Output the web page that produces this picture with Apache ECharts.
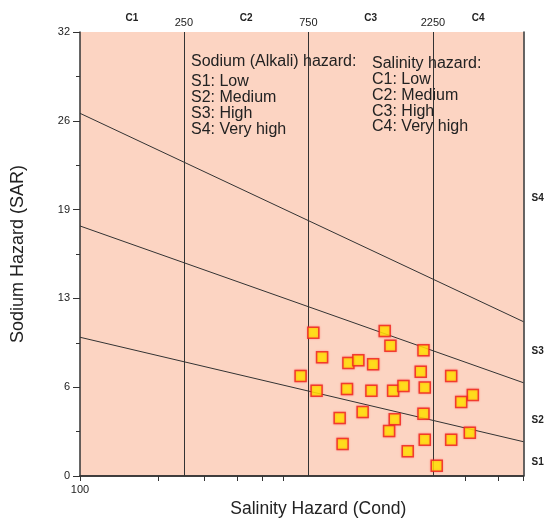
<!DOCTYPE html>
<html>
<head>
<meta charset="utf-8">
<script src="https://cdn.jsdelivr.net/npm/echarts@6/dist/echarts.min.js"></script>
<style>
html,body{margin:0;padding:0;background:#fff;}
#chart{width:547px;height:518px;}
</style>
</head>
<body>
<div id="chart"></div>
<script>
// Sample points: EC (conductivity) and SAR
const sampleEC  = [783, 1470, 1546, 2069, 846, 1067, 1165, 1327, 2020, 2642,
                   700, 806, 1054, 1307, 1583, 1734, 2093, 3198, 2886, 1210,
                   2069, 988, 1606, 1528, 3114, 2093, 2642, 1014, 1801, 2326];
const sampleSAR = [10.33, 10.45, 9.39, 9.06, 8.56, 8.15, 8.34, 8.05, 7.52, 7.21,
                   7.21, 6.15, 6.27, 6.15, 6.15, 6.49, 6.37, 5.84, 5.34, 4.61,
                   4.49, 4.18, 4.09, 3.24, 3.12, 2.62, 2.62, 2.31, 1.78, 0.74];

// Hazard class boundaries (EC, SAR)
const boundaryS1S2 = [[100, 10.0], [5000, 2.47]];
const boundaryS2S3 = [[100, 18.02], [5000, 6.72]];
const boundaryS3S4 = [[100, 26.14], [5000, 11.12]];

// Salinity class limits
const salinityLimits = [250, 750, 2250];
const salinityClassCenters = [158, 433, 1299, 3354];
const salinityClassLabels = ['C1', 'C2', 'C3', 'C4'];

// Sodium class label positions
const sodiumClassValues = [1, 4, 9, 20];
const sodiumClassLabels = ['S1', 'S2', 'S3', 'S4'];

// Axis ticks
const xTickValues = [100, 200, 300, 400, 500, 600, 3000, 4000, 5000];
const xLabelValues = [100];
const yTickLabels = ['0', '6', '13', '19', '26', '32'];

const sodiumText = ['S1: Low', 'S2: Medium', 'S3: High', 'S4: Very high'];
const salinityText = ['Salinity hazard:', 'C1: Low', 'C2: Medium', 'C3: High', 'C4: Very high'];

const FONT = 'Liberation Sans, Arial, Helvetica, sans-serif';
const INK = '#222';
const BORDER = '#333';

const chart = echarts.init(document.getElementById('chart'), null, {renderer: 'canvas'});

const logAxisBase = {
  type: 'log', logBase: 10, min: 100, max: 5000,
  splitLine: {show: false}, minorSplitLine: {show: false}
};

function nearestIndex(arr, v) {
  let best = 0;
  for (let i = 0; i < arr.length; i++) {
    if (Math.abs(Math.log10(arr[i]) - Math.log10(v)) <
        Math.abs(Math.log10(arr[best]) - Math.log10(v))) best = i;
  }
  return best;
}

const option = {
  animation: false,
  backgroundColor: '#fff',
  grid: {left: 80, right: 23.5, top: 32, bottom: 42, show: true,
         outerBoundsMode: 'none', containLabel: false,
         backgroundColor: '#fcd4c2', borderWidth: 0},
  xAxis: [
    Object.assign({}, logAxisBase, {
      position: 'bottom',
      name: 'Salinity Hazard (Cond)', nameLocation: 'middle', nameGap: 24,
      nameTextStyle: {fontFamily: FONT, fontSize: 17.5, color: INK, padding: [0, 0, 0, 33]},
      axisLine: {show: true, lineStyle: {color: BORDER, width: 1.5}},
      axisTick: {show: true, length: 5, customValues: xTickValues, lineStyle: {color: BORDER}},
      minorTick: {show: false},
      axisLabel: {show: true, customValues: xLabelValues, margin: 8,
                  fontFamily: FONT, fontSize: 11, color: INK,
                  formatter: function (v) { return String(Math.round(v)); }}
    }),
    Object.assign({}, logAxisBase, {
      position: 'top',
      axisLine: {show: true, lineStyle: {color: BORDER, width: 1.5}},
      axisTick: {show: false},
      minorTick: {show: false},
      axisLabel: {show: true, customValues: salinityLimits, margin: 4,
                  fontFamily: FONT, fontSize: 11, color: INK,
                  formatter: function (v) { return String(salinityLimits[nearestIndex(salinityLimits, v)]); }}
    }),
    Object.assign({}, logAxisBase, {
      position: 'top',
      axisLine: {show: false},
      axisTick: {show: false},
      minorTick: {show: false},
      axisLabel: {show: true, customValues: salinityClassCenters, margin: 9,
                  fontFamily: FONT, fontSize: 10, fontWeight: 'bold', color: INK,
                  formatter: function (v) {
                    return salinityClassLabels[nearestIndex(salinityClassCenters, v)];
                  }}
    })
  ],
  yAxis: [
    {
      type: 'value', min: 0, max: 32, interval: 6.4, position: 'left',
      name: 'Sodium Hazard (SAR)', nameLocation: 'middle', nameGap: 53, nameRotate: 90,
      nameTextStyle: {fontFamily: FONT, fontSize: 18, color: INK},
      axisLine: {show: true, lineStyle: {color: BORDER, width: 1.5}},
      axisTick: {show: true, length: 7, lineStyle: {color: BORDER}},
      minorTick: {show: true, splitNumber: 2, length: 4, lineStyle: {color: BORDER}},
      splitLine: {show: false},
      axisLabel: {margin: 10, fontFamily: FONT, fontSize: 11, color: INK,
                  formatter: function (v) { return yTickLabels[Math.round(v / 6.4)]; }}
    },
    {
      type: 'value', min: 0, max: 32, position: 'right',
      axisLine: {show: true, lineStyle: {color: BORDER, width: 1.5}},
      axisTick: {show: false},
      splitLine: {show: false},
      axisLabel: {show: true, customValues: sodiumClassValues, margin: 8,
                  fontFamily: FONT, fontSize: 10, fontWeight: 'bold', color: INK,
                  formatter: function (v) {
                    let best = 0;
                    for (let i = 0; i < sodiumClassValues.length; i++) {
                      if (Math.abs(sodiumClassValues[i] - v) < Math.abs(sodiumClassValues[best] - v)) best = i;
                    }
                    return sodiumClassLabels[best];
                  }}
    }
  ],
  series: [
    {type: 'line', xAxisIndex: 0, yAxisIndex: 0, data: boundaryS1S2, showSymbol: false,
     silent: true, z: 2, lineStyle: {color: BORDER, width: 1}},
    {type: 'line', xAxisIndex: 0, yAxisIndex: 0, data: boundaryS2S3, showSymbol: false,
     silent: true, z: 2, lineStyle: {color: BORDER, width: 1}},
    {type: 'line', xAxisIndex: 0, yAxisIndex: 0, data: boundaryS3S4, showSymbol: false,
     silent: true, z: 2, lineStyle: {color: BORDER, width: 1}},
    {
      type: 'scatter', xAxisIndex: 0, yAxisIndex: 0, z: 5,
      symbol: 'rect', symbolSize: 11,
      data: sampleEC.map(function (ec, i) { return [ec, sampleSAR[i]]; }),
      itemStyle: {color: '#ffee00', borderColor: '#ee2020', borderWidth: 1.5,
                  shadowBlur: 2, shadowColor: 'rgba(255,60,60,0.5)'},
      markLine: {
        silent: true, symbol: ['none', 'none'], label: {show: false},
        lineStyle: {color: BORDER, width: 1, type: 'solid'},
        data: salinityLimits.map(function (v) { return {xAxis: v}; })
      }
    }
  ],
  graphic: [
    {type: 'text', left: 191, top: 54, z: 10, silent: true,
     style: {text: 'Sodium (Alkali) hazard:', font: '16px ' + FONT, fill: INK}},
    {type: 'text', left: 191, top: 74, z: 10, silent: true,
     style: {text: sodiumText.join('\n'), font: '16px ' + FONT, fill: INK, lineHeight: 15.8}},
    {type: 'text', left: 372, top: 56, z: 10, silent: true,
     style: {text: salinityText.join('\n'), font: '16px ' + FONT, fill: INK, lineHeight: 15.7}}
  ]
};

chart.setOption(option);
</script>
</body>
</html>
